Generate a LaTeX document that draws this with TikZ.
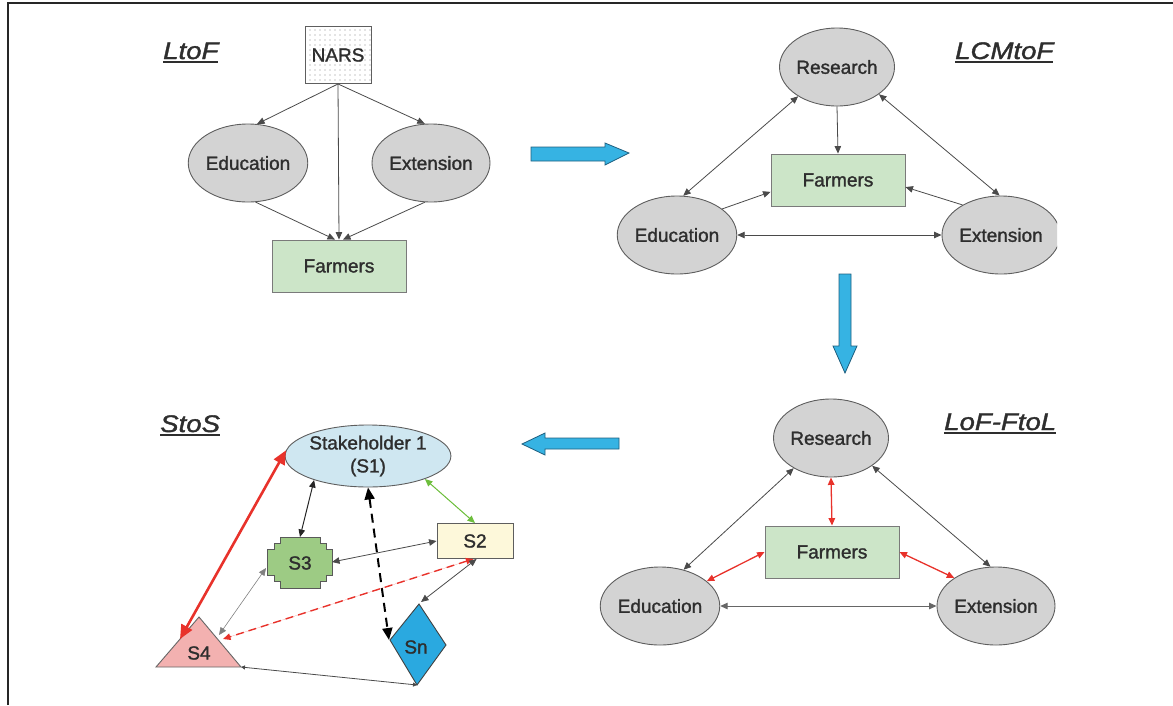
\documentclass[tikz,border=0pt]{standalone}
\usepackage{fontspec}
\setmainfont{Liberation Sans}
\newfontfamily\medsans[FakeBold=1.4]{Liberation Sans}
\usetikzlibrary{arrows.meta,shapes.geometric,patterns.meta}

\definecolor{txt}{HTML}{2E2E2E}
\definecolor{edge}{HTML}{4A4A4A}
\definecolor{ovalfill}{HTML}{D3D3D3}
\definecolor{ovaldraw}{HTML}{5E5E5E}
\definecolor{farmfill}{HTML}{CCE5C8}
\definecolor{farmdraw}{HTML}{7A7A7A}
\definecolor{flowfill}{HTML}{36B3E3}
\definecolor{flowdraw}{HTML}{1F5F7F}
\definecolor{redlink}{HTML}{E8322B}
\definecolor{greenlink}{HTML}{6DBE3C}
\definecolor{sonefill}{HTML}{CFE7F1}
\definecolor{stwofill}{HTML}{FDF8DA}
\definecolor{sthreefill}{HTML}{9DCB84}
\definecolor{sfourfill}{HTML}{F3B1B0}
\definecolor{snfill}{HTML}{2AA9E0}

\newcommand{\diagfont}{\medsans\fontsize{19}{23}\selectfont}
\newcommand{\titlefont}{\medsans\fontsize{24}{28}\selectfont\itshape}
\newcommand{\thickul}[1]{\setbox0\hbox{#1}\rlap{\rule[-4pt]{\wd0}{1.8pt}}\box0}

\begin{document}
\begin{tikzpicture}[x=1pt,y=-1pt,
  >={Triangle[length=7.5pt,width=6.5pt]},
  oval/.style={ellipse, draw=ovaldraw, line width=0.9pt, fill=ovalfill,
    inner sep=0pt, minimum width=110pt, minimum height=78pt,
    font=\diagfont, text=txt},
  farm/.style={rectangle, draw=farmdraw, line width=0.9pt, fill=farmfill,
    inner sep=0pt, minimum width=134pt, minimum height=52pt,
    font=\diagfont, text=txt},
  lnk/.style={draw=edge, line width=0.8pt},
  redlnk/.style={draw=redlink, fill=redlink, line width=1.3pt},
  flow/.style={fill=flowfill, draw=flowdraw, line width=0.8pt, line join=miter},
  paneltitle/.style={anchor=base west, inner sep=0pt, text=txt, font=\titlefont},
  stext/.style={font=\diagfont, text=txt, inner sep=0pt},
  sshape/.style={line width=0.9pt, line join=miter}
]
\useasboundingbox (0,0) rectangle (1173,705);

% outer frame
\draw[black!85, line width=1.5pt] (8,705) -- (8,3) -- (1173,3);

\begin{scope}
\clip (9,4) rectangle (1057,705);

% ---------- LtoF ----------
\node[paneltitle] (t1) at (163,59) {\thickul{\scalebox{1.15}[1]{LtoF}}};
\node[draw=ovaldraw, line width=0.9pt, preaction={fill=white},
      pattern={Dots[distance=5pt,radius=0.6pt]}, pattern color=gray!90,
      minimum width=66pt, minimum height=57pt, inner sep=0pt,
      font=\diagfont, text=txt] (nars) at (338,55) {NARS};
\node[oval] (edu1) at (248,163) {Education};
\node[oval] (ext1) at (431,163) {Extension};
\node[farm] (farm1) at (339,266) {Farmers};
\draw[lnk,->] (nars.south) -- (edu1.77);
\draw[lnk,->] (nars.south) -- (ext1.99);
\draw[lnk,->] (nars.south) -- (farm1.north);
\draw[lnk,->] (edu1.-79) -- ([xshift=-4pt]farm1.north);
\draw[lnk,->] (ext1.-99) -- ([xshift=4pt]farm1.north);

% ---------- LCMtoF ----------
\node[paneltitle] (t2) at (955,59) {\thickul{\scalebox{1.15}[1]{LCMtoF}}};
\node[oval, minimum width=112pt] (res2) at (837,67) {Research};
\node[farm] (farm2) at (838,180) {Farmers};
\node[oval] (edu2) at (677,235) {Education};
\node[oval, minimum width=112pt] (ext2) at (1001,235) {Extension};
\draw[lnk,<->] (res2.217) -- (edu2.81);
\draw[lnk,->] (res2.south) -- (farm2.north);
\draw[lnk,<->] (res2.327) -- (ext2.92);
\draw[lnk,->] (edu2.30) -- (farm2.190);
\draw[lnk,->] (ext2.142) -- (farm2.354);
\draw[lnk,<->] (edu2.east) -- (ext2.west);

% ---------- LoF-FtoL ----------
\node[paneltitle] (t3) at (944,430) {\thickul{\scalebox{1.15}[1]{LoF-FtoL}}};
\node[oval, minimum width=108pt] (res3) at (831,438) {Research};
\node[farm] (farm3) at (832,552) {Farmers};
\node[oval, minimum width=108pt] (edu3) at (660,606) {Education};
\node[oval] (ext3) at (996,606) {Extension};
\draw[lnk,<->] (res3.219) -- (edu3.57);
\draw[lnk,<->] (res3.326) -- (ext3.98);
\draw[redlnk,<->] (res3.south) -- (farm3.north);
\draw[redlnk,<->] (farm3.west) -- (edu3.28);
\draw[redlnk,<->] (farm3.east) -- (ext3.146);
\draw[draw=gray!80!black, line width=1pt, <->] (edu3.east) -- (ext3.west);

% ---------- StoS ----------
\node[paneltitle] (t4) at (160,432) {\thickul{\scalebox{1.15}[1]{StoS}}};
\node[ellipse, draw=ovaldraw, line width=0.9pt, fill=sonefill,
      minimum width=150pt, minimum height=62pt, inner sep=0pt, align=center,
      font=\medsans\fontsize{19}{23}\selectfont, text=txt] (s1) at (368,456)
      {Stakeholder 1\\(S1)};
\node[rectangle, draw=ovaldraw, line width=0.9pt, fill=stwofill,
      minimum width=76pt, minimum height=35pt, inner sep=0pt,
      font=\diagfont, text=txt] (s2) at (475,541) {S2};
% S3: stepped cross
\draw[sshape, draw=black!65, fill=sthreefill]
  (280,537) -- (320,537) -- (320,543) -- (326,543) -- (326,549) -- (332,549)
  -- (332,575) -- (326,575) -- (326,581) -- (320,581) -- (320,588)
  -- (280,588) -- (280,581) -- (274,581) -- (274,575) -- (267,575)
  -- (267,549) -- (274,549) -- (274,543) -- (280,543) -- cycle;
\node[stext] (s3) at (300,563) {S3};
% S4: triangle
\draw[sshape, draw=black!60, fill=sfourfill] (156,667) -- (199,617) -- (241,667) -- cycle;
\node[stext] (s4) at (199,653) {S4};
% Sn: diamond
\draw[sshape, draw=black!75, fill=snfill] (419,604) -- (446,645) -- (417,685) -- (390,640) -- cycle;
\node[stext] (sn) at (416,647) {Sn};

\coordinate (s3n) at (300,537);
\coordinate (s3e) at (332,562);
\coordinate (s3w) at (266,568);
\coordinate (s4l) at (180,639);
\coordinate (s4r) at (219,635);
\coordinate (s4rr) at (223,639);
\coordinate (s4b) at (241,667);
\coordinate (snt) at (421,602);
\coordinate (snl) at (389,640);
\coordinate (snb) at (417,685);

\draw[draw=redlink, fill=redlink, line width=2.6pt,
      {Triangle[length=14pt,width=12pt]}-{Triangle[length=14pt,width=12pt]}]
      (s1.176) -- (s4l);
\draw[draw=black!85, line width=1pt, <->] (s1.204) -- (s3n);
\draw[draw=black, line width=2pt, dash pattern=on 9pt off 6pt,
      {Triangle[length=12pt,width=10pt]}-{Triangle[length=12pt,width=10pt]}]
      (s1.south) -- (snl);
\draw[draw=greenlink, fill=greenlink, line width=1pt, <->] (s1.-22) -- (s2.north);
\draw[lnk, <->] (s2.west) -- (s3e);
\draw[draw=redlink, fill=redlink, line width=1.4pt, dash pattern=on 8pt off 5pt, <->]
      (s2.-95) -- (s4rr);
\draw[lnk, <->] (s2.-85) -- (snt);
\draw[draw=gray, line width=0.6pt, <->] (s3w) -- (s4r);
\draw[lnk, {Triangle[length=4pt,width=4pt]}-{Triangle[length=4pt,width=4pt]}] (s4b) -- (snb);

% ---------- block arrows between panels ----------
\draw[flow] (531,147) -- (605,147) -- (605,143) -- (629,153) -- (605,165) -- (605,161) -- (531,161) -- cycle;
\draw[flow] (839,274) -- (851,274) -- (851,346) -- (857,346) -- (845,373) -- (833,346) -- (839,346) -- cycle;
\draw[flow] (619,438) -- (545,438) -- (545,433) -- (522,444) -- (545,455) -- (545,449) -- (619,449) -- cycle;
\end{scope}
\end{tikzpicture}
\end{document}
